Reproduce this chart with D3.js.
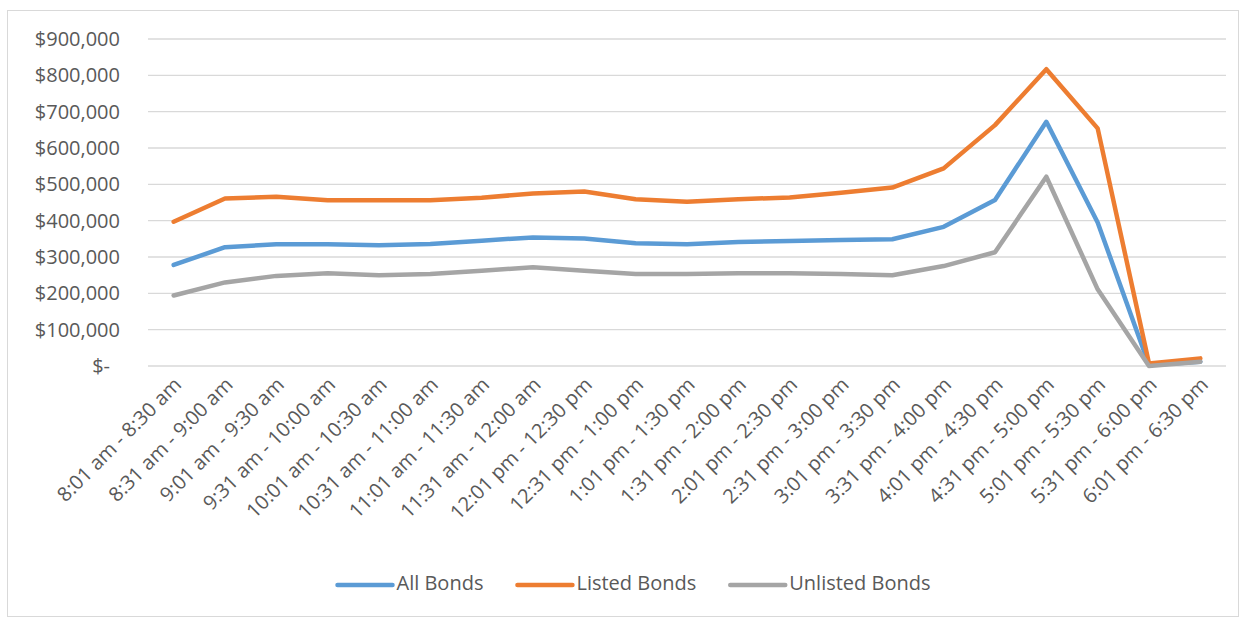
<!DOCTYPE html>
<html>
<head>
<meta charset="utf-8">
<script src="https://cdn.jsdelivr.net/npm/d3@7"></script>
<style>
  body { margin: 0; background: #fff; }
  svg { display: block; }
</style>
</head>
<body>
<div id="chart"></div>
<script>
// data
const timeSlots = [
  "8:01 am - 8:30 am", "8:31 am - 9:00 am", "9:01 am - 9:30 am", "9:31 am - 10:00 am",
  "10:01 am - 10:30 am", "10:31 am - 11:00 am", "11:01 am - 11:30 am", "11:31 am - 12:00 am",
  "12:01 pm - 12:30 pm", "12:31 pm - 1:00 pm", "1:01 pm - 1:30 pm", "1:31 pm - 2:00 pm",
  "2:01 pm - 2:30 pm", "2:31 pm - 3:00 pm", "3:01 pm - 3:30 pm", "3:31 pm - 4:00 pm",
  "4:01 pm - 4:30 pm", "4:31 pm - 5:00 pm", "5:01 pm - 5:30 pm", "5:31 pm - 6:00 pm",
  "6:01 pm - 6:30 pm"
];
const allBonds = [278000, 327000, 335000, 335000, 332000, 336000, 345000, 354000, 351000, 338000,
  335000, 341000, 344000, 347000, 349000, 383000, 457000, 672000, 395000, 3000, 12000];
const listedBonds = [397000, 461000, 466000, 456000, 456000, 456000, 463000, 475000, 480000, 459000,
  452000, 459000, 464000, 477000, 491000, 544000, 663000, 817000, 654000, 7000, 21000];
const unlistedBonds = [194000, 230000, 248000, 255000, 250000, 253000, 262000, 272000, 262000, 253000,
  253000, 255000, 255000, 253000, 250000, 275000, 313000, 521000, 211000, 0, 12000];
const yTicks = [0, 100000, 200000, 300000, 400000, 500000, 600000, 700000, 800000, 900000];
const seriesNames = ["All Bonds", "Listed Bonds", "Unlisted Bonds"];
const seriesValues = [allBonds, listedBonds, unlistedBonds];
const colors = ["#5b9bd5", "#ed7d31", "#a5a5a5"];

const width = 1244;
const height = 618;
const margin = {top: 39, right: 18, bottom: 252, left: 148};
const innerWidth = width - margin.left - margin.right;
const innerHeight = height - margin.top - margin.bottom;
const textColor = "#595959";
const font = "'Open Sans', Lato, sans-serif";

const svg = d3.select("#chart")
  .append("svg")
    .attr("width", width)
    .attr("height", height);

// outer frame
svg.append("rect")
  .attr("x", 7.5)
  .attr("y", 10.5)
  .attr("width", 1231)
  .attr("height", 606)
  .attr("fill", "none")
  .attr("stroke", "#d9d9d9");

const innerChart = svg.append("g")
  .attr("transform", `translate(${margin.left}, ${margin.top})`);

const xScale = d3.scaleBand()
  .domain(timeSlots)
  .range([0, innerWidth]);

const yScale = d3.scaleLinear()
  .domain([0, 900000])
  .range([innerHeight, 0]);

// gridlines
innerChart.append("g")
  .selectAll("line")
  .data(yTicks)
  .join("line")
    .attr("x1", 0)
    .attr("x2", innerWidth)
    .attr("y1", d => yScale(d))
    .attr("y2", d => yScale(d))
    .attr("stroke", "#d9d9d9")
    .attr("stroke-width", 1.3);

const leftAxis = d3.axisLeft(yScale)
  .tickValues(yTicks)
  .tickSize(0)
  .tickPadding(28)
  .tickFormat(d => d === 0 ? "$-" : "$" + d3.format(",")(d));
const yAxis = innerChart.append("g")
  .attr("class", "axis-y")
  .call(leftAxis);
yAxis.select(".domain").remove();
yAxis.selectAll("text")
  .attr("x", d => d === 0 ? -38 : -28)
  .style("font-family", font)
  .style("font-size", "20px")
  .attr("fill", textColor);

const bottomAxis = d3.axisBottom(xScale).tickSize(0);
const xAxis = innerChart.append("g")
  .attr("class", "axis-x")
  .attr("transform", `translate(0, ${innerHeight})`)
  .call(bottomAxis);
xAxis.select(".domain").remove();
xAxis.selectAll("text")
  .attr("text-anchor", "end")
  .attr("dy", 0)
  .attr("y", 0)
  .attr("transform", "translate(9, 20) rotate(-45)")
  .style("font-family", font)
  .style("font-size", "20px")
  .attr("fill", textColor);

const lineGenerator = d3.line()
  .x((d, i) => xScale(timeSlots[i]) + xScale.bandwidth() / 2)
  .y(d => yScale(d));

innerChart.selectAll(".series")
  .data(seriesValues)
  .join("path")
    .attr("class", "series")
    .attr("d", d => lineGenerator(d))
    .attr("fill", "none")
    .attr("stroke", (d, i) => colors[i])
    .attr("stroke-width", 4.5)
    .attr("stroke-linejoin", "round")
    .attr("stroke-linecap", "round");

// legend, centred under the chart
const legend = svg.append("g");
const items = legend.selectAll("g")
  .data(seriesNames)
  .join("g");
items.append("line")
  .attr("x1", 0)
  .attr("x2", 55)
  .attr("stroke", (d, i) => colors[i])
  .attr("stroke-width", 4.5)
  .attr("stroke-linecap", "round");
items.append("text")
  .text(d => d)
  .attr("x", 59)
  .attr("dominant-baseline", "middle")
  .style("font-family", font)
  .style("font-size", "20px")
  .attr("fill", textColor);
let offset = 0;
items.each(function() {
  const w = 59 + d3.select(this).select("text").node().getComputedTextLength();
  d3.select(this).attr("transform", `translate(${offset}, 0)`);
  offset += w + 34;
});
const legendWidth = offset - 34;
legend.attr("transform", `translate(${634 - legendWidth / 2}, 585)`);
</script>
</body>
</html>
